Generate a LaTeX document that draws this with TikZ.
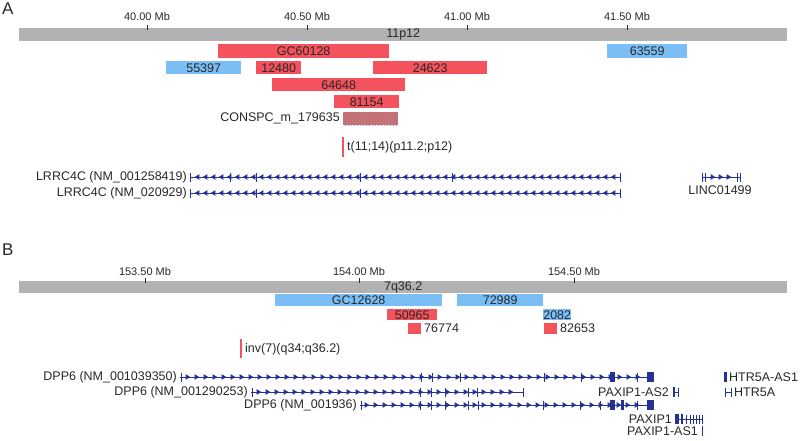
\documentclass[tikz,border=0pt]{standalone}
\usepackage{fontspec}
\setmainfont{Liberation Sans}
\usetikzlibrary{patterns}
\definecolor{boxred}{RGB}{244,82,92}
\definecolor{boxblue}{RGB}{122,190,245}
\definecolor{chromgrey}{RGB}{178,178,178}
\definecolor{gcol}{RGB}{36,50,148}
\definecolor{txt}{RGB}{40,40,40}
\definecolor{hatchred}{RGB}{218,96,104}
\newcommand{\gArrowsRight}[2]{\foreach \gx in {#2}{\path[fill=gcol] (\gx+2.3,#1) -- (\gx-2.3,#1-2.8) -- (\gx-2.3,#1+2.8) -- cycle;}}
\newcommand{\gArrowsLeft}[2]{\foreach \gx in {#2}{\path[fill=gcol] (\gx-2.3,#1) -- (\gx+2.3,#1-2.8) -- (\gx+2.3,#1+2.8) -- cycle;}}
\newcommand{\gExons}[2]{\foreach \gx in {#2}{\draw[gexon] (\gx,#1) ++(0,-4.5) -- ++(0,9);}}
\newcommand{\gBlock}[3]{\fill[gcol] (#2,#1-5) rectangle (#3,#1+5);}
\begin{document}
\begin{tikzpicture}[x=1pt,y=-1pt,
  lbl/.style={font=\fontsize{12.5}{14}\selectfont, text=txt, inner sep=0pt},
  ticklbl/.style={font=\fontsize{11}{12}\selectfont, text=txt, inner sep=0pt},
  panel/.style={font=\fontsize{17}{19}\selectfont, text=txt, inner sep=0pt, anchor=west},
  regbox/.style={anchor=north west, inner sep=0pt, font=\fontsize{12.5}{14}\selectfont, text=txt},
  redbox/.style={regbox, fill=boxred},
  bluebox/.style={regbox, fill=boxblue},
  chrom/.style={regbox, fill=chromgrey},
  hatchbox/.style={regbox, fill=hatchred, postaction={pattern=north east lines, pattern color=gray!80}},
  tickmark/.style={draw=txt, line width=0.6pt},
  bp/.style={draw=boxred, line width=1.6pt},
  gline/.style={draw=gcol, line width=1pt},
  gexon/.style={draw=gcol, line width=1pt}]
\useasboundingbox (0,0) rectangle (800,441);

% ---------------- Panel A ----------------
\node[panel] (pA) at (2,9) {A};
\node[chrom, minimum width=768pt, minimum height=13pt] (chrA) at (19,28) {11p12};
\foreach \x/\t [count=\i] in {147/40.00 Mb, 307/40.50 Mb, 467/41.00 Mb, 627/41.50 Mb}{
  \node[ticklbl] (tA\i) at (\x,17) {\t};
  \draw[tickmark] (\x,25) -- (\x,30);
}
\node[redbox,  minimum width=171pt, minimum height=14pt] (gc60128) at (218,44) {GC60128};
\node[bluebox, minimum width=80pt,  minimum height=14pt] (b63559) at (607,44) {63559};
\node[bluebox, minimum width=75pt,  minimum height=13pt] (b55397) at (166,61) {55397};
\node[redbox,  minimum width=45pt,  minimum height=13pt] (r12480) at (256,61) {12480};
\node[redbox,  minimum width=114pt, minimum height=13pt] (r24623) at (373,61) {24623};
\node[redbox,  minimum width=133pt, minimum height=13pt] (r64648) at (272,78) {64648};
\node[redbox,  minimum width=65pt,  minimum height=13pt] (r81154) at (334,95) {81154};
\node[hatchbox, minimum width=55pt, minimum height=13pt] (consA) at (343,112) {};
\node[lbl, anchor=east] (consAl) at (340,118.5) {CONSPC\_m\_179635};
\coordinate (tA) at (343,137);
\coordinate (tB) at (343,157);
\draw[bp] (tA) -- (tB);
\node[lbl, anchor=west] (transl) at (347,147) {t(11;14)(p11.2;p12)};

% genes A
\node[lbl, anchor=east] (g1l) at (187,177) {LRRC4C (NM\_001258419)};
\draw[gline] (190,177) -- (620,177);
\gExons{177}{190,230,256,360,452,620}
\gArrowsLeft{177}{197,205,...,613}
\node[lbl, anchor=east] (g2l) at (187,193) {LRRC4C (NM\_020929)};
\draw[gline] (190,193) -- (620,193);
\gExons{193}{190,256,360,620}
\gArrowsLeft{193}{197,205,...,613}
\draw[gline] (702,177) -- (740,177);
\gExons{177}{702,705,737,740}
\gArrowsRight{177}{713,721,729}
\node[lbl] (linc) at (720,190) {LINC01499};

% ---------------- Panel B ----------------
\node[panel] (pB) at (2,250) {B};
\node[chrom, minimum width=768pt, minimum height=12pt] (chrB) at (19,281) {7q36.2};
\foreach \x/\t [count=\i] in {145/153.50 Mb, 359/154.00 Mb, 574/154.50 Mb}{
  \node[ticklbl] (tB\i) at (\x,272) {\t};
  \draw[tickmark] (\x,278) -- (\x,283);
}
\node[bluebox, minimum width=167pt, minimum height=12pt] (gc12628) at (275,294) {GC12628};
\node[bluebox, minimum width=86pt,  minimum height=12pt] (b72989) at (457,294) {72989};
\node[redbox,  minimum width=50pt,  minimum height=11pt] (r50965) at (387,309) {50965};
\node[bluebox, minimum width=28pt,  minimum height=11pt] (b2082) at (543,309) {2082};
\node[redbox,  minimum width=13pt,  minimum height=11pt] (r76774) at (408,323) {};
\node[lbl, anchor=west] (l76774) at (424,328.5) {76774};
\node[redbox,  minimum width=13pt,  minimum height=11pt] (r82653) at (544,323) {};
\node[lbl, anchor=west] (l82653) at (560,328.5) {82653};
\coordinate (iA) at (241,339);
\coordinate (iB) at (241,358);
\draw[bp] (iA) -- (iB);
\node[lbl, anchor=west] (invl) at (245,349) {inv(7)(q34;q36.2)};

% genes B
\node[lbl, anchor=east] (d1l) at (177,377) {DPP6 (NM\_001039350)};
\draw[gline] (180,377) -- (654,377);
\gExons{377}{181,421,432,460,544,581,637}
\gBlock{377}{610}{615}\gBlock{377}{647}{654}
\gArrowsRight{377}{188,197,...,640}
\node[lbl, anchor=east] (d2l) at (248,392) {DPP6 (NM\_001290253)};
\draw[gline] (251,392) -- (523,392);
\gExons{392}{252,420,431,445,468,477,523}
\gArrowsRight{392}{259,268,...,516}
\node[lbl, anchor=east] (d3l) at (357,405) {DPP6 (NM\_001936)};
\draw[gline] (360,405) -- (654,405);
\gExons{405}{361,420,431,445,468,478,543,580,600,637}
\gBlock{405}{610}{615}\gBlock{405}{621}{624}\gBlock{405}{647}{654}
\gArrowsRight{405}{367,376,...,640}

\node[lbl, anchor=east] (pas2l) at (669,392) {PAXIP1-AS2};
\draw[gline] (673,392) -- (678,392);
\gBlock{392}{673}{675}\gExons{392}{678}
\node[lbl, anchor=west] (htras1l) at (729,377) {HTR5A-AS1};
\gBlock{377}{724}{727}
\node[lbl, anchor=west] (htrl) at (734,392) {HTR5A};
\draw[gline] (725,392) -- (731,392);
\gExons{392}{725,731}
\node[lbl, anchor=east] (paxl) at (672,419) {PAXIP1};
\draw[gline] (675,419) -- (702,419);
\gBlock{419}{675}{679}\gBlock{419}{681}{683}
\gExons{419}{686,690,693,696,699,702}
\node[lbl, anchor=east] (pas1l) at (698,431) {PAXIP1-AS1};
\draw[gexon] (702,426) -- (702,436);
\end{tikzpicture}
\end{document}
